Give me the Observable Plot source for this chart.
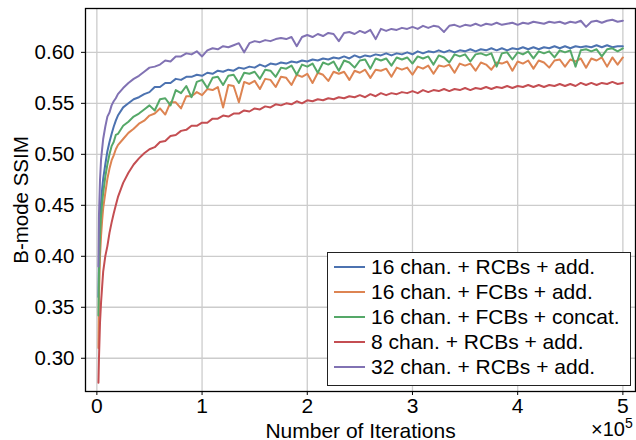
<!DOCTYPE html>
<html><head><meta charset="utf-8">
<script src="https://cdn.jsdelivr.net/npm/d3@7"></script>
<script src="https://cdn.jsdelivr.net/npm/@observablehq/plot@0.6"></script>
<style>
body{margin:0;background:#fff;}
#wrap{position:relative;width:636px;height:440px;font-family:"Liberation Sans",Arial,Helvetica,sans-serif;color:#000;}
#legend{position:absolute;left:327px;top:252px;width:304px;height:134px;box-sizing:border-box;border:1.3px solid #222;background:#fff;padding:2px 0 0 6px;}
.row{display:flex;align-items:center;height:24.8px;font-size:21px;white-space:nowrap;}
.sw{width:31px;height:0;border-top:2px solid;margin-right:6px;}
#mult{position:absolute;left:591px;top:419px;font-size:20px;line-height:20px;}
#mult sup{font-size:14px;vertical-align:8px;line-height:0;}
</style></head>
<body><div id="wrap"></div>
<script>
const seriesNames = ["16 chan. + RCBs + add.","16 chan. + FCBs + add.","16 chan. + FCBs + concat.","8 chan. + RCBs + add.","32 chan. + RCBs + add."];
const seriesColors = ["#4C72B0","#DD8452","#55A868","#C44E52","#8172B3"];
const xTicks = [0,1,2,3,4,5];
const yTicks = [0.30,0.35,0.40,0.45,0.50,0.55,0.60];

// iterations (x 10^5)
const iters = [0.015,0.02,0.03,0.04,0.05,0.06,0.08,0.10,0.12,0.14,0.16,0.18,0.20,0.25,0.30,0.35,0.40,0.45,
0.50,0.55,0.60,0.65,0.70,0.75,0.80,0.85,0.90,0.95,
1.00,1.05,1.10,1.15,1.20,1.25,1.30,1.35,1.40,1.45,
1.50,1.55,1.60,1.65,1.70,1.75,1.80,1.85,1.90,1.95,
2.00,2.05,2.10,2.15,2.20,2.25,2.30,2.35,2.40,2.45,
2.50,2.55,2.60,2.65,2.70,2.75,2.80,2.85,2.90,2.95,
3.00,3.05,3.10,3.15,3.20,3.25,3.30,3.35,3.40,3.45,
3.50,3.55,3.60,3.65,3.70,3.75,3.80,3.85,3.90,3.95,
4.00,4.05,4.10,4.15,4.20,4.25,4.30,4.35,4.40,4.45,
4.50,4.55,4.60,4.65,4.70,4.75,4.80,4.85,4.90,4.95,
5.00];

const ssimBlue16RCB = [0.360,0.400,0.435,0.452,0.466,0.476,0.490,0.503,0.512,0.520,0.527,0.533,0.538,0.546,0.550,0.554,0.556,0.559,
.561,.566,.566,.570,.570,.574,.573,.576,.576,.578,
.577,.580,.579,.582,.581,.583,.582,.585,.584,.586,
.585,.588,.586,.589,.588,.590,.589,.591,.590,.592,
.591,.593,.592,.594,.593,.595,.594,.596,.594,.597,
.595,.597,.596,.598,.597,.599,.597,.599,.598,.600,
.598,.601,.599,.601,.600,.602,.600,.602,.600,.602,
.601,.603,.601,.603,.602,.604,.602,.604,.602,.604,
.603,.605,.603,.605,.603,.605,.604,.606,.604,.606,
.604,.606,.605,.606,.605,.607,.605,.607,.605,.606,
.606];

const ssimOrange16FCB = [0.310,0.360,0.400,0.420,0.435,0.447,0.462,0.476,0.486,0.494,0.499,0.505,0.509,0.515,0.521,0.525,0.530,0.533,
.538,.540,.545,.539,.551,.551,.545,.557,.557,.561,
.558,.564,.563,.566,.546,.568,.567,.551,.571,.569,
.572,.564,.574,.573,.566,.576,.575,.568,.578,.576,
.579,.570,.580,.578,.572,.581,.579,.581,.573,.582,
.580,.583,.575,.583,.582,.584,.576,.585,.583,.585,
.578,.586,.584,.587,.579,.587,.586,.588,.580,.589,
.587,.589,.582,.590,.588,.583,.590,.589,.591,.582,
.591,.589,.592,.584,.592,.590,.585,.592,.593,.586,
.593,.591,.594,.585,.594,.592,.595,.586,.595,.588,
.595];

const ssimGreen16FCBcat = [0.342,0.385,0.420,0.440,0.452,0.462,0.478,0.490,0.500,0.508,0.512,0.519,0.520,0.528,0.532,0.537,0.540,0.544,
.548,.543,.554,.555,.548,.563,.560,.567,.556,.571,
.573,.565,.575,.576,.568,.577,.578,.570,.580,.579,
.581,.574,.583,.582,.576,.585,.584,.587,.578,.588,
.586,.589,.580,.590,.588,.591,.582,.592,.590,.585,
.592,.593,.584,.594,.592,.594,.587,.595,.593,.595,
.589,.596,.594,.596,.588,.597,.595,.590,.598,.596,
.598,.591,.598,.599,.597,.599,.586,.599,.600,.593,
.600,.598,.601,.594,.601,.599,.601,.595,.602,.600,
.602,.586,.602,.603,.601,.603,.596,.603,.604,.601,
.604];

const ssimRed8RCB = [0.276,0.300,0.335,0.355,0.370,0.385,0.400,0.410,0.423,0.433,0.442,0.450,0.458,0.472,0.482,0.490,0.496,0.501,
.505,.507,.512,.513,.518,.519,.523,.524,.528,.528,
.531,.531,.535,.535,.538,.537,.540,.540,.543,.542,
.545,.544,.547,.546,.549,.548,.550,.549,.552,.550,
.553,.552,.554,.553,.555,.554,.556,.555,.557,.556,
.558,.556,.559,.557,.560,.558,.560,.559,.561,.560,
.562,.560,.563,.561,.563,.562,.564,.562,.564,.563,
.565,.563,.565,.564,.566,.564,.566,.565,.567,.565,
.567,.566,.568,.566,.568,.566,.568,.567,.569,.567,
.569,.567,.570,.568,.570,.568,.570,.569,.571,.569,
.570];

const ssimPurple32RCB = [0.390,0.440,0.475,0.495,0.505,0.515,0.527,0.537,0.541,0.548,0.552,0.555,0.559,0.565,0.570,0.574,0.577,0.581,
.585,.586,.588,.592,.591,.596,.596,.599,.598,.601,
.596,.602,.604,.603,.606,.605,.607,.609,.600,.609,
.611,.610,.612,.611,.613,.614,.613,.615,.606,.615,
.617,.615,.618,.616,.619,.618,.611,.619,.620,.618,
.621,.619,.622,.613,.623,.621,.623,.622,.624,.623,
.625,.623,.626,.624,.626,.625,.620,.626,.627,.625,
.627,.626,.628,.626,.628,.627,.629,.627,.628,.629,
.627,.629,.628,.630,.629,.628,.630,.629,.630,.628,
.630,.629,.631,.625,.630,.631,.629,.631,.632,.630,
.631];

const seriesValues = [ssimBlue16RCB, ssimOrange16FCB, ssimGreen16FCBcat, ssimRed8RCB, ssimPurple32RCB];
const data = [];
seriesValues.forEach((vals, s) => vals.forEach((v, i) => data.push({series: seriesNames[s], x: iters[i], y: v})));

const font = '"Liberation Sans",Arial,Helvetica,sans-serif';
const chart = Plot.plot({
  width: 636, height: 440,
  marginLeft: 85, marginRight: 1, marginTop: 8, marginBottom: 49,
  style: {fontFamily: font, fontSize: "21px", background: "#fff", color: "#000"},
  x: {domain: [-0.108, 5.12]},
  y: {domain: [0.2674, 0.643]},
  color: {domain: seriesNames, range: seriesColors},
  marks: [
    Plot.gridX(xTicks, {stroke: "#cccccc", strokeOpacity: 1, strokeWidth: 1.3}),
    Plot.gridY(yTicks, {stroke: "#cccccc", strokeOpacity: 1, strokeWidth: 1.3}),
    Plot.line(data, {x: "x", y: "y", z: "series", stroke: "series", strokeWidth: 2, strokeLinejoin: "round"}),
    Plot.frame({stroke: "#000", strokeWidth: 1.3}),
    Plot.axisX(xTicks, {tickSize: 4, tickPadding: 3, fontSize: 21, label: "Number of Iterations", labelAnchor: "center", labelArrow: "none", labelOffset: 46}),
    Plot.axisY(yTicks, {tickSize: 4, tickPadding: 7, fontSize: 20.5, tickFormat: d3.format(".2f"), label: "B-mode SSIM", labelAnchor: "center", labelArrow: "none", labelOffset: 72})
  ]
});
const wrap = document.getElementById("wrap");
wrap.appendChild(chart);

const leg = document.createElement("div");
leg.id = "legend";
seriesNames.forEach((n, i) => {
  const r = document.createElement("div"); r.className = "row";
  const sw = document.createElement("span"); sw.className = "sw"; sw.style.borderTopColor = seriesColors[i];
  const t = document.createElement("span"); t.textContent = n;
  r.appendChild(sw); r.appendChild(t); leg.appendChild(r);
});
wrap.appendChild(leg);
const m = document.createElement("div"); m.id = "mult"; m.innerHTML = "×10<sup>5</sup>";
wrap.appendChild(m);
</script></body></html>
